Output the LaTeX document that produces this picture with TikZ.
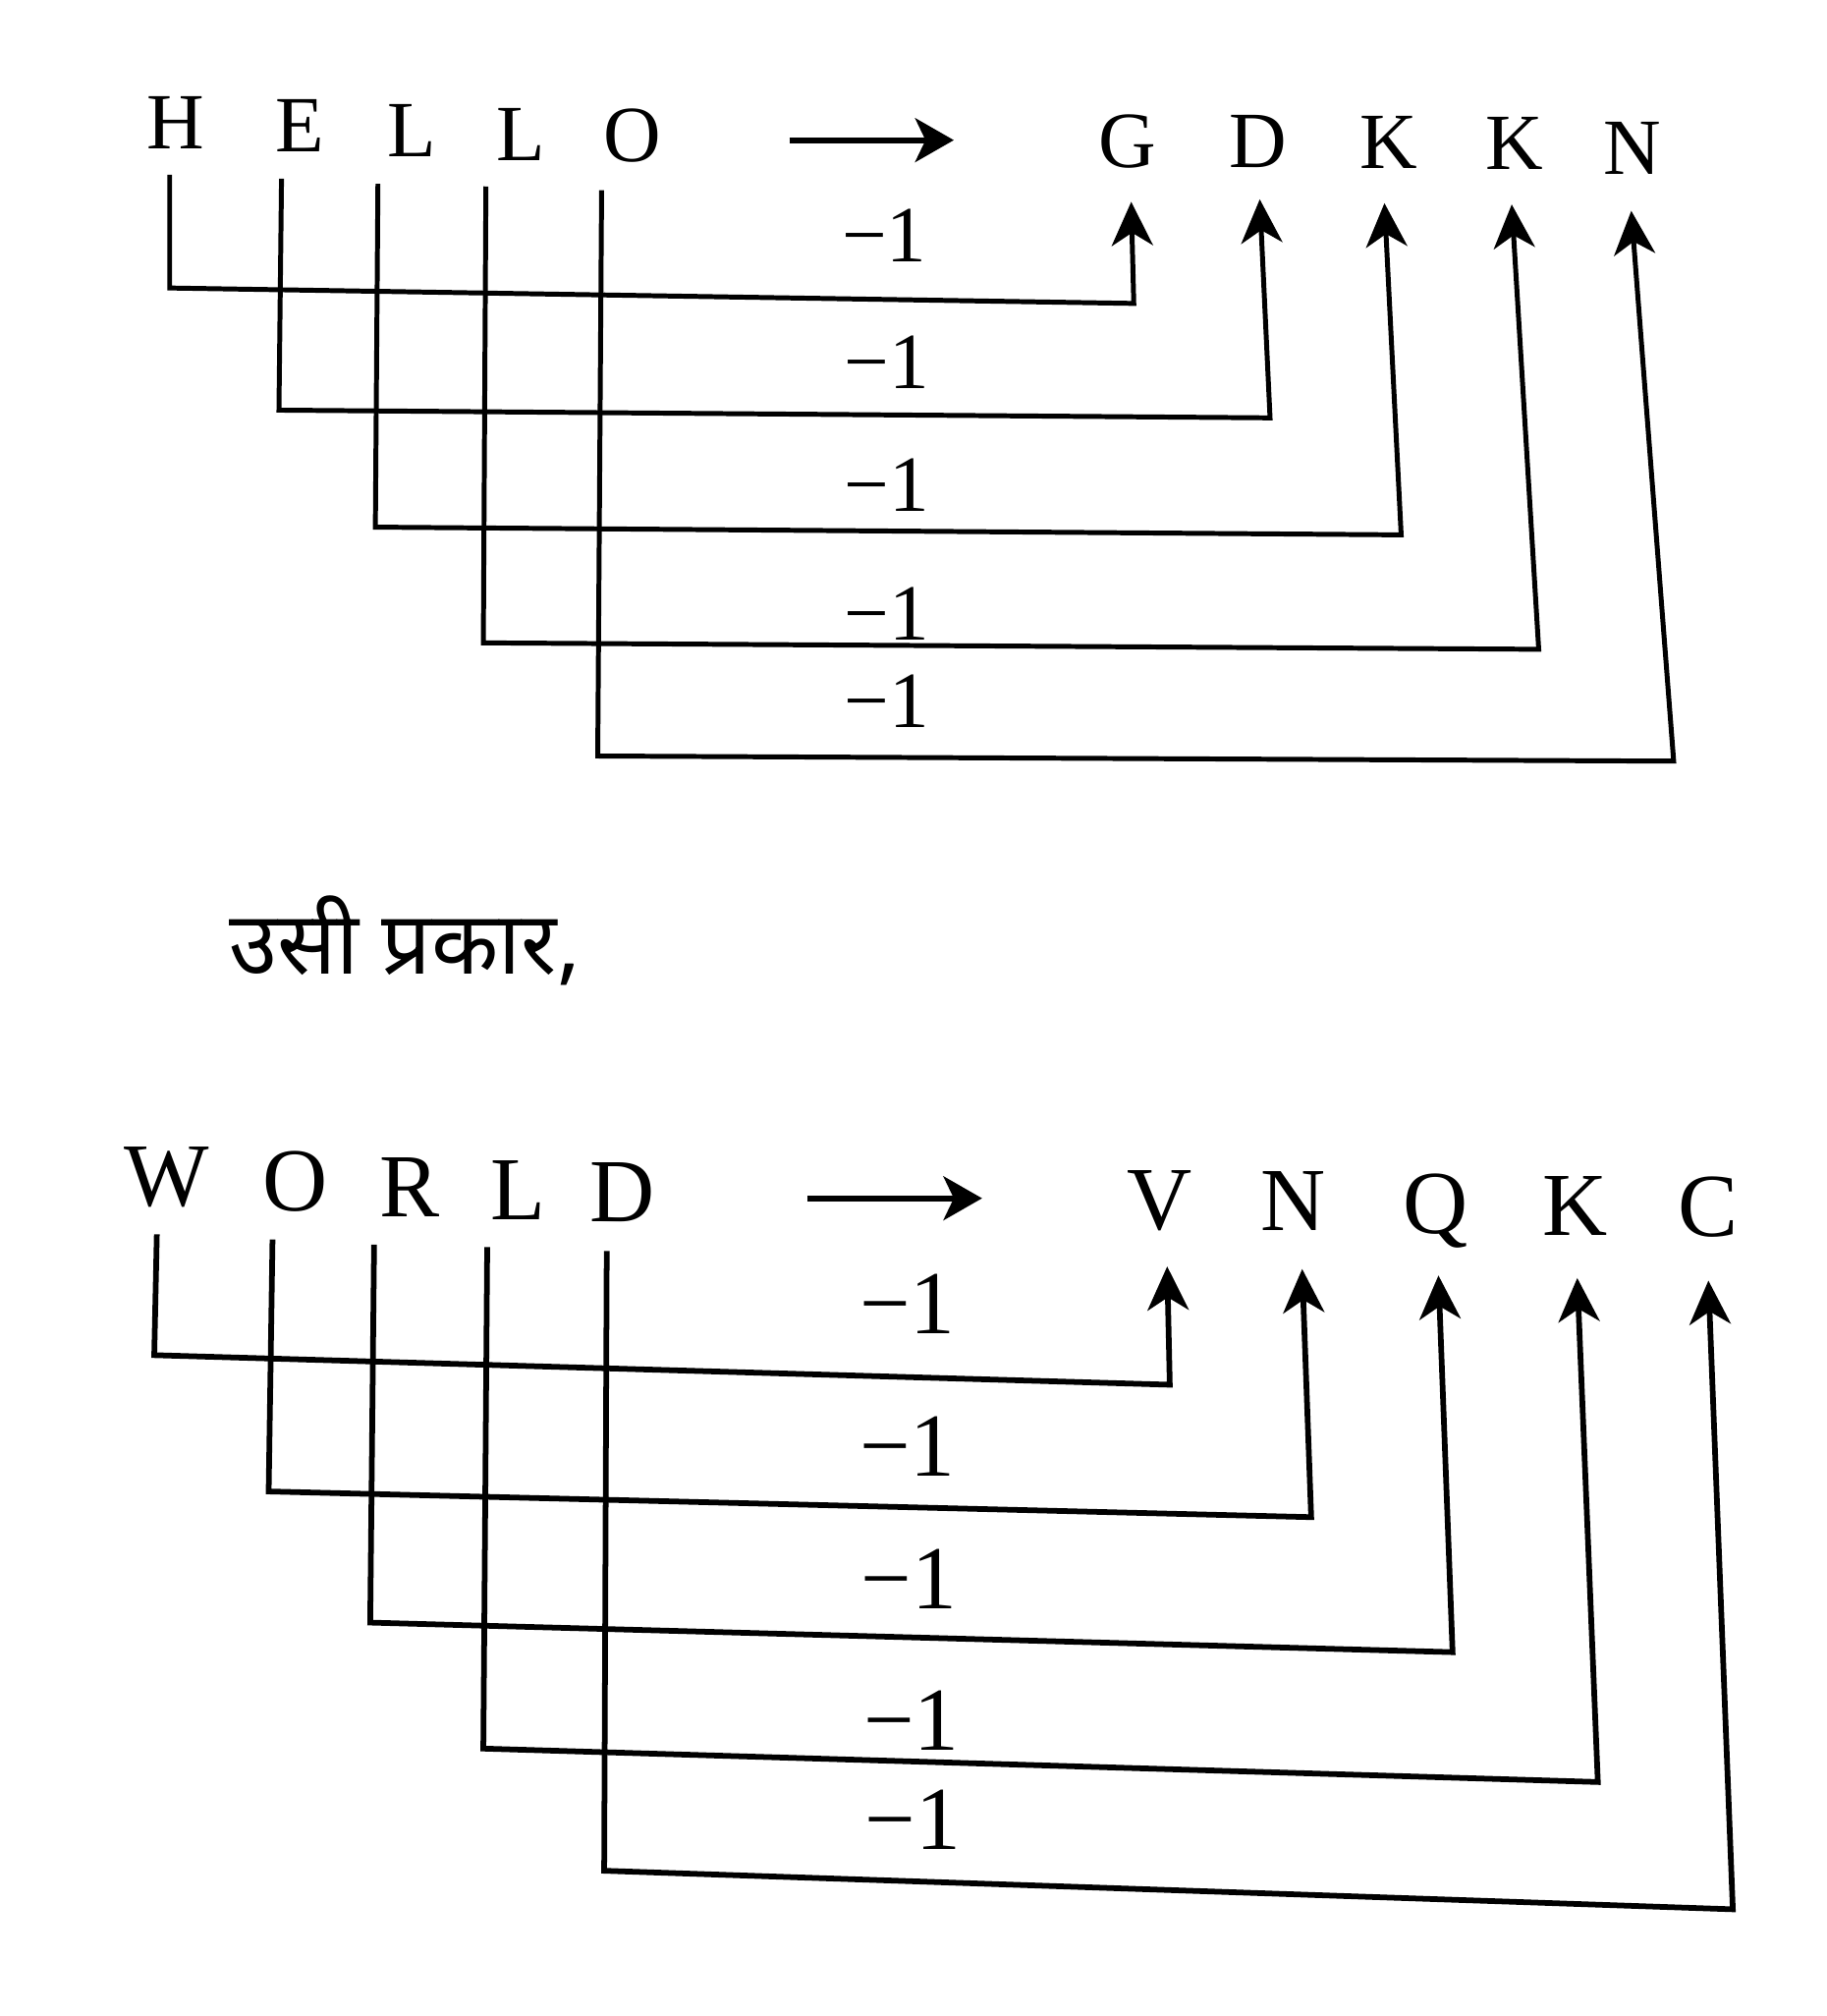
\documentclass[tikz,border=0pt]{standalone}
\usepackage{fontspec}
\setmainfont{Liberation Serif}
\newfontfamily\devfont[Script=Devanagari]{Noto Sans}
\usetikzlibrary{arrows.meta}
\begin{document}
\begin{tikzpicture}[x=0.5pt,y=-0.5pt,
  ltrA/.style={font=\fontsize{31}{31}\selectfont, inner sep=0pt, anchor=base},
  ltrB/.style={font=\fontsize{35}{35}\selectfont, inner sep=0pt, anchor=base},
  lblA/.style={font=\fontsize{31}{31}\selectfont, inner sep=0pt},
  lblB/.style={font=\fontsize{35}{35}\selectfont, inner sep=0pt},
  link/.style={line width=1.9pt, line join=miter, -{Stealth[length=17pt,width=16pt,inset=5pt]}},
  linkB/.style={link, line width=2.2pt},
  bigarrow/.style={line width=2.4pt, -{Stealth[length=15pt,width=17pt,inset=4pt]}},
  hindi/.style={font=\devfont\fontsize{34}{34}\selectfont, inner sep=0pt, anchor=base west}
]
\useasboundingbox (0,0) rectangle (1421,1568);

% ---------- HELLO ----------
\node[ltrA] (h)  at (137,116) {H};
\node[ltrA] (e)  at (233,118) {E};
\node[ltrA] (l1) at (320,122) {L};
\node[ltrA] (l2) at (405,125) {L};
\node[ltrA] (o)  at (492,126) {O};
\node[ltrA] (g)  at (877,130) {G};
\node[ltrA] (d)  at (979,130) {D};
\node[ltrA] (k1) at (1080,131) {K};
\node[ltrA] (k2) at (1178,132) {K};
\node[ltrA] (n)  at (1270,136) {N};

\coordinate (a1s) at (614,109);
\coordinate (a1e) at (742,109);
\draw[bigarrow] (a1s) -- (a1e);

\coordinate (hs)  at (132,136);  \coordinate (hc1) at (132,224);
\coordinate (hc2) at (882,236);  \coordinate (gt)  at (880,157);
\coordinate (es)  at (219,139);  \coordinate (ec1) at (217,319);
\coordinate (ec2) at (988,325);  \coordinate (dt)  at (980,155);
\coordinate (l1s) at (294,143);  \coordinate (l1c1) at (292,410);
\coordinate (l1c2) at (1090,416); \coordinate (k1t) at (1077,158);
\coordinate (l2s) at (378,145);  \coordinate (l2c1) at (376,500);
\coordinate (l2c2) at (1197,505); \coordinate (k2t) at (1176,159);
\coordinate (os)  at (468,148);  \coordinate (oc1) at (465,588);
\coordinate (oc2) at (1302,592); \coordinate (nt)  at (1269,164);

\draw[link] (hs) -- (hc1) -- (hc2) -- (gt);
\draw[link] (es) -- (ec1) -- (ec2) -- (dt);
\draw[link] (l1s) -- (l1c1) -- (l1c2) -- (k1t);
\draw[link] (l2s) -- (l2c1) -- (l2c2) -- (k2t);
\draw[link] (os) -- (oc1) -- (oc2) -- (nt);

\node[lblA] (m1) at (688,183) {−1};
\node[lblA] (m2) at (690,282) {−1};
\node[lblA] (m3) at (690,377) {−1};
\node[lblA] (m4) at (690,477) {−1};
\node[lblA] (m5) at (690,545) {−1};

% ---------- Hindi ----------
\node[hindi] (usi) at (178,758) {उसी प्रकार,};

% ---------- WORLD ----------
\node[ltrB] (w)   at (130,938) {W};
\node[ltrB] (o2)  at (230,942) {O};
\node[ltrB] (r)   at (319,946) {R};
\node[ltrB] (l3)  at (403,949) {L};
\node[ltrB] (d2)  at (484,950) {D};
\node[ltrB] (v)   at (902,956) {V};
\node[ltrB] (n2)  at (1006,957) {N};
\node[ltrB] (q)   at (1117,959) {Q};
\node[ltrB] (k3)  at (1225,961) {K};
\node[ltrB] (c)   at (1329,962) {C};

\coordinate (a2s) at (628,932);
\coordinate (a2e) at (764,932);
\draw[bigarrow] (a2s) -- (a2e);

\coordinate (ws)  at (122,960);  \coordinate (wc1) at (120,1054);
\coordinate (wc2) at (910,1077); \coordinate (vt)  at (908,985);
\coordinate (o2s) at (212,964);  \coordinate (o2c1) at (209,1160);
\coordinate (o2c2) at (1020,1180); \coordinate (n2t) at (1013,987);
\coordinate (rs)  at (291,968);  \coordinate (rc1) at (288,1262);
\coordinate (rc2) at (1130,1285); \coordinate (qt) at (1119,992);
\coordinate (l3s) at (379,970);  \coordinate (l3c1) at (376,1360);
\coordinate (l3c2) at (1243,1386); \coordinate (k3t) at (1227,994);
\coordinate (d2s) at (472,973);  \coordinate (d2c1) at (470,1455);
\coordinate (d2c2) at (1348,1485); \coordinate (ct) at (1329,996);

\draw[linkB] (ws) -- (wc1) -- (wc2) -- (vt);
\draw[linkB] (o2s) -- (o2c1) -- (o2c2) -- (n2t);
\draw[linkB] (rs) -- (rc1) -- (rc2) -- (qt);
\draw[linkB] (l3s) -- (l3c1) -- (l3c2) -- (k3t);
\draw[linkB] (d2s) -- (d2c1) -- (d2c2) -- (ct);

\node[lblB] (p1) at (706,1014) {−1};
\node[lblB] (p2) at (706,1125) {−1};
\node[lblB] (p3) at (707,1228) {−1};
\node[lblB] (p4) at (709,1338) {−1};
\node[lblB] (p5) at (710,1415) {−1};
\end{tikzpicture}
\end{document}
